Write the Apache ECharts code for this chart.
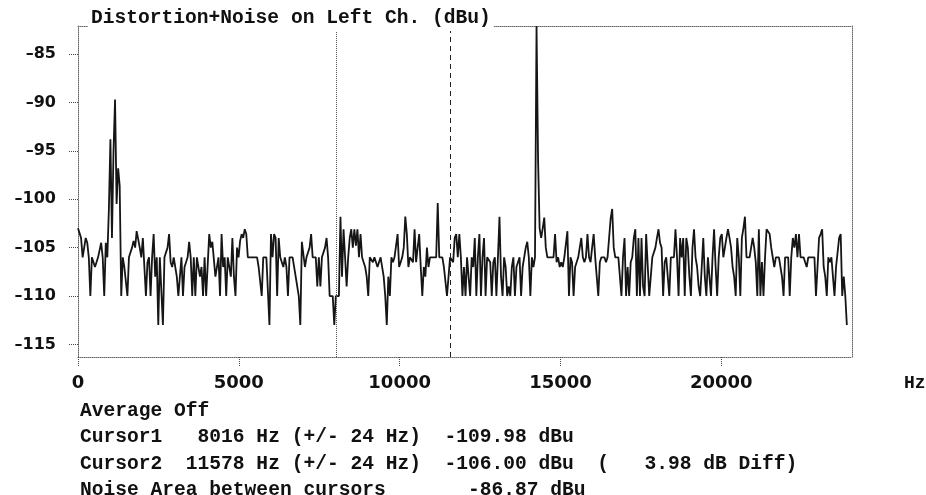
<!DOCTYPE html>
<html><head><meta charset="utf-8">
<script src="https://cdn.jsdelivr.net/npm/echarts@6/dist/echarts.min.js"></script>
<style>html,body{margin:0;padding:0;background:#fff}#c{width:926px;height:495px}</style>
</head><body><div id="c"></div>
<script>
// Frequency resolution of the analyser (bin spacing, "+/- 24 Hz")
const BIN_HZ = 48;
const X_MIN = 0, X_MAX = 24064;
const Y_MIN = -116.3, Y_MAX = -82.1;
const xTicks = [0, 5000, 10000, 15000, 20000];
const yTicks = [-115, -110, -105, -100, -95, -90, -85];
const cursorHz = [8016, 11578];

// Level (dBu) per 48 Hz bin
const levelsA = [ // bins 0-99
-103,-103.5,-104,-106,-105,-104,-104.5,-106,-110,-106,
-106,-107,-107,-106,-106,-104.5,-106,-110,-104.5,-106,
-101,-93.8,-104,-95,-89.7,-100.5,-96.8,-98.6,-110,-106,
-107,-107,-110,-106,-106,-105,-104.3,-105,-103.3,-103.1,
-105,-106,-104,-104,-110,-106.5,-106,-110,-106,-103.6,
-108,-106,-113,-106,-106,-113,-106,-106,-105,-103.6,
-106.5,-107,-106,-106,-108,-110,-108,-106,-110,-107,
-107,-106,-104.4,-106,-110,-106,-110,-106,-106,-108,
-107,-110,-106,-110,-110,-103.6,-105,-104.4,-104.2,-108,
-108,-106,-110,-103.6,-107,-106,-110,-106,-106,-108];
const levelsB = [ // bins 100-199
-104,-108,-110,-105,-106,-104.3,-103.6,-104,-103.1,-103.6,
-106,-106,-106,-106,-106,-106,-106,-107,-107,-110,
-106,-106,-106,-106,-113,-103.6,-106,-103.6,-104,-110,
-104,-106,-106,-107,-106,-107,-110,-106,-106,-106,
-106,-108,-108,-110,-113,-104.4,-104.5,-107,-106,-106,
-105,-103.6,-106,-106,-106,-109,-106,-109,-106,-106,
-105,-104,-106,-110,-110,-110,-113,-110,-110,-110,
-101.8,-108,-103.1,-106,-109,-106,-104,-103.1,-105,-103.1,
-104.8,-103.1,-106,-103.6,-106,-106.5,-107,-108,-110,-106,
-106,-106.5,-106,-106,-107,-107,-106,-106,-108,-110];
const levelsC = [ // bins 200-299
-113,-108,-110,-106,-106.5,-106,-106,-103.6,-107,-106.5,
-106,-105,-101.8,-103.6,-107,-106,-106,-106.5,-103.1,-106.5,
-105,-103.6,-107,-110,-107,-108,-105,-107,-106,-106,
-106,-106,-106,-100.4,-106,-106,-106,-107,-107,-110,
-110,-106,-106,-106.5,-104,-103.6,-106,-103.6,-106,-110,
-107,-110,-106,-106,-110,-106,-107,-104,-110,-106,
-103.6,-110,-106,-104,-110,-106,-106,-106.5,-110,-106.5,
-106,-110,-106,-101.8,-108,-110,-106,-107,-110,-109,
-110,-107,-106,-110,-107,-107,-106,-110,-107,-106,
-105,-104.4,-106,-110,-106,-107,-106,-82.1,-96,-103];
const levelsD = [ // bins 300-399
-104,-103,-101.9,-105,-106,-106,-106,-106,-106,-103.6,
-106.5,-106,-107,-106.5,-107,-106,-106,-103.3,-110,-106,
-106.5,-110,-107,-107,-106,-105,-104,-106,-106.5,-106,
-103.6,-106,-106.5,-105,-103.6,-106,-108,-110,-106.5,-106,
-106,-106,-106.5,-106,-104,-102,-101,-105,-106,-106,
-106,-106,-110,-106,-104,-110,-107,-110,-106.5,-106,
-104,-103.1,-110,-104,-110,-104,-109,-110,-103.6,-103.6,
-110,-108,-106,-106,-105,-104,-103.1,-104.5,-105,-110,
-106.5,-106,-106,-110,-106,-106,-106,-103.1,-106,-110,
-104,-106,-104,-110,-104,-105,-108,-110,-105,-103.1];
const levelsE = [ // bins 400-498
-106,-107,-109,-110,-107,-104,-108,-110,-106,-108,
-110,-106,-103.1,-107,-110,-106,-104,-103.6,-106,-106,
-104,-103.1,-104,-105,-107,-108,-110,-104,-106,-110,
-104,-103,-101.8,-106,-106,-106,-106,-104,-105,-106.5,
-110,-103.1,-110,-106.5,-110,-106,-103.1,-103.1,-103.6,-105,
-105,-107,-106,-106,-106,-106,-108,-110,-106,-106,
-106,-110,-106,-104,-105,-103.6,-106,-103.6,-106,-106,
-106,-106.5,-107,-106,-106,-106,-106,-106,-110,-107,
-104,-103.6,-103.1,-107,-108,-110,-106,-106.5,-106,-106,
-110,-107,-107,-104,-103.6,-110,-108,-110,-113];

const infoLines = [
  'Average Off',
  'Cursor1   8016 Hz (+/- 24 Hz)  -109.98 dBu',
  'Cursor2  11578 Hz (+/- 24 Hz)  -106.00 dBu  (   3.98 dB Diff)',
  'Noise Area between cursors       -86.87 dBu'
];

const levels = [].concat(levelsA, levelsB, levelsC, levelsD, levelsE);
const seriesData = levels.map((v, i) => [i * BIN_HZ, v]);

const MONO = 'Liberation Mono';
const border = {show: true, onZero: false, lineStyle: {color: '#666', type: 'dotted', width: 1}};

const chart = echarts.init(document.getElementById('c'), null, {renderer: 'canvas'});
chart.setOption({
  animation: false,
  backgroundColor: '#fff',
  title: {
    text: 'Distortion+Noise on Left Ch. (dBu)',
    left: 88, top: 5,
    padding: [3, 3, 3, 3],
    backgroundColor: '#fff',
    textStyle: {fontFamily: MONO, fontWeight: 'bold', fontSize: 19.6, color: '#111'}
  },
  grid: {left: 78, right: 74, top: 26, bottom: 138},
  xAxis: [{
    type: 'value', min: X_MIN, max: X_MAX,
    axisLine: border,
    axisTick: {show: true, customValues: xTicks, length: 10, inside: false, lineStyle: {color: '#444', type: 'dotted'}},
    axisLabel: {customValues: xTicks, margin: 17, fontFamily: 'DejaVu Sans', fontWeight: 'bold', fontSize: 18, color: '#111',
      formatter: v => String(v)},
    splitLine: {show: false}
  }, {
    type: 'value', min: X_MIN, max: X_MAX, position: 'top',
    axisLine: border, axisTick: {show: false}, axisLabel: {show: false}, splitLine: {show: false}
  }],
  yAxis: [{
    type: 'value', min: Y_MIN, max: Y_MAX,
    axisLine: border,
    axisTick: {show: true, customValues: yTicks, length: 9, lineStyle: {color: '#444', type: 'dotted'}},
    axisLabel: {customValues: yTicks, margin: 22, padding: [6, 0, 0, 0], fontFamily: 'DejaVu Sans', fontWeight: 'bold', fontSize: 16, color: '#111',
      formatter: v => String(v).replace('-', '\u2013')},
    splitLine: {show: false}
  }, {
    type: 'value', min: Y_MIN, max: Y_MAX, position: 'right',
    axisLine: border, axisTick: {show: false}, axisLabel: {show: false}, splitLine: {show: false}
  }],
  series: [{
    type: 'line', data: seriesData, symbol: 'none', showSymbol: false,
    lineStyle: {color: '#151515', width: 1.8},
    markLine: {
      silent: true, symbol: ['none', 'none'], label: {show: false}, animation: false,
      data: [
        {xAxis: cursorHz[0], lineStyle: {type: 'dotted', color: '#555', width: 1}},
        {xAxis: cursorHz[1], lineStyle: {type: [5, 4], color: '#222', width: 1}}
      ]
    }
  }],
  graphic: [
    {type: 'text', left: 904, top: 374, style: {text: 'Hz', font: 'bold 18px "Liberation Mono"', fill: '#111'}}
  ].concat(infoLines.map((t, i) => ({
    type: 'text', left: 80, top: 401 + i * 26.3,
    style: {text: t, font: 'bold 19.6px "Liberation Mono"', fill: '#111'}
  })))
});
</script>
</body></html>
